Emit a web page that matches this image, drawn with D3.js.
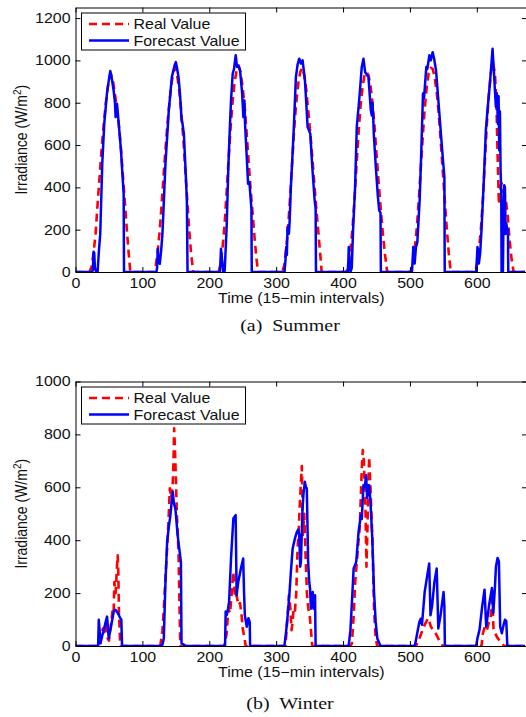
<!DOCTYPE html>
<html>
<head>
<meta charset="utf-8">
<script src="https://cdn.jsdelivr.net/npm/d3@7"></script>
<style>
  body { margin: 0; background: #fff; }
  svg { display: block; }
  text { font-family: "Liberation Sans", Arial, Helvetica, sans-serif; fill: #111; }
  .caption { font-family: "Liberation Serif", "Times New Roman", serif; white-space: pre; }
</style>
</head>
<body>
<svg id="fig" width="526" height="717"></svg>
<script>
// ---- data: [time index (15-min steps), irradiance W/m^2] ----
const xTicks = [0, 100, 200, 300, 400, 500, 600];
const summerYTicks = [0, 200, 400, 600, 800, 1000, 1200];
const winterYTicks = [0, 200, 400, 600, 800, 1000];
const seriesNames = ["Real Value", "Forecast Value"];
const captions = ["(a)  Summer", "(b)  Winter"];
const xLabel = "Time (15\u2212min intervals)";

const summerReal = [
  [0,0],[21,0],[24,25],[27,90],[30,180],[33,320],[36,450],[39,580],[42,690],[45,790],[48,870],[51,920],[53,935],[56,905],[59,840],[62,770],[65,690],[68,580],[71,450],[74,320],[77,190],[80,70],[82,0],
  [117,0],[120,30],[123,100],[126,200],[129,330],[132,470],[135,600],[138,720],[141,820],[144,900],[147,955],[149,965],[152,930],[155,860],[158,760],[161,640],[164,490],[167,340],[170,200],[173,80],[176,0],
  [214,0],[217,40],[220,120],[223,230],[226,380],[229,540],[232,690],[235,810],[238,900],[241,955],[244,975],[247,940],[250,870],[253,780],[256,650],[258,560],[260,470],[262,380],[265,270],[268,150],[271,50],[273,0],
  [309,0],[312,30],[315,110],[318,220],[321,360],[324,520],[327,680],[330,800],[333,890],[336,945],[339,965],[342,930],[345,860],[348,760],[351,660],[354,540],[357,420],[360,300],[363,190],[366,80],[368,0],
  [405,0],[408,30],[411,100],[414,200],[417,340],[420,500],[423,650],[426,780],[429,870],[432,930],[435,945],[438,930],[441,880],[444,800],[447,690],[450,560],[453,430],[456,310],[459,200],[462,100],[466,0],
  [501,0],[504,30],[507,100],[510,200],[513,330],[516,480],[519,630],[522,770],[525,870],[528,940],[531,965],[534,960],[537,920],[540,850],[543,750],[546,620],[549,480],[552,340],[555,210],[558,90],[561,0],
  [597,0],[600,30],[603,100],[606,200],[609,340],[612,520],[615,700],[618,840],[621,940],[624,990],[627,940],[629,830],[631,560],[633,320],[635,400],[637,420],[640,380],[643,350],[646,270],[649,150],[652,60],[655,0],[672,0]
];

const summerForecast = [
  [0,0],[25,0],[26,10],[27,96],[28,90],[29,20],[31,0],[33,0],[35,100],[37,181],[40,512],[43,701],[47,843],[50,910],[52,950],[54,920],[57,858],[59,800],[60,732],[62,795],[64,724],[66,650],[68,575],[70,470],[72,370],[72.5,0],
  [121,0],[122,20],[123,110],[124,60],[126,39],[128,100],[130,181],[134.5,512],[139.5,764],[144,921],[148,975],[150,992],[152,960],[154,921],[156,850],[157.5,780],[158.5,720],[160,700],[162,654],[164,520],[166.5,339],[167.5,0],
  [216,0],[217.5,110],[219,60],[221,0],[223,5],[226,213],[228.5,496],[231,700],[232.5,811],[235,937],[237,960],[239.5,1024],[241.5,969],[243.5,975],[246,953],[249,850],[251,732],[252.5,811],[253.5,700],[255.5,575],[258,417],[260,425],[262,339],[263,300],[263.5,0],
  [312.5,0],[314,60],[315,118],[316,80],[317,213],[319,181],[320,230],[322,402],[326,654],[329.5,921],[332,980],[334.5,1008],[337,985],[339.5,1000],[341,960],[343,906],[345,800],[347,685],[349,670],[351,654],[354,496],[357.5,339],[359,300],[359.5,0],
  [407,0],[408,60],[408.5,118],[410,40],[411,0],[413,20],[415,200],[418,402],[420.5,685],[424.5,827],[427,930],[428,969],[430.5,1008],[433,945],[436,930],[438,921],[441.5,764],[443,740],[444,800],[445,740],[446,650],[449,496],[452,360],[454,291],[456,280],[456.5,0],
  [503,0],[505,118],[506,60],[507,40],[509,118],[511,140],[512,197],[514.5,339],[517,575],[519.5,843],[521,820],[524.5,969],[526,960],[529,1024],[531,1000],[534,1039],[536,1010],[539,953],[544,748],[549,543],[551.5,449],[552,0],
  [599,0],[601,118],[603,40],[605,90],[607,200],[610,402],[613.5,669],[615.5,748],[619.5,890],[621.5,970],[623.5,1055],[625.5,950],[627,860],[628.5,780],[630,843],[631.5,700],[632.5,830],[633.5,575],[634.5,760],[635.5,480],[636.5,380],[637,0],[639,0],[640,300],[641,410],[642,400],[643,180],[644,230],[645,210],[646.5,200],[647,0],[672,0]
];

const winterReal = [
  [0,0],[36,0],[38,30],[40.9,66],[43,40],[45.8,91],[48,30],[50,20],[52,60],[55.7,141],[57,130],[58.1,242],[60,200],[62,300],[63,343],[64,280],[65,124],[67,0],
  [125,0],[127,5],[130,60],[132,141],[134.5,260],[137,368],[139.4,495],[141,596],[143,560],[145.3,608],[146.5,700],[147.5,823],[148.5,760],[150,640],[151.5,500],[153,420],[154.2,330],[155.5,150],[156.7,0],
  [222,0],[224,20],[226,48],[228.6,141],[231,124],[233.6,200],[236,280],[238.6,181],[241,192],[243.3,154],[246,162],[248.3,116],[250,66],[253.2,20],[254.5,0],
  [314,0],[316,80],[317.2,116],[319,192],[321,150],[323,60],[324.6,91],[326,140],[328,130],[330,200],[332,368],[334,450],[335,520],[337,621],[338.4,680],[340,420],[342,500],[344.3,318],[346,200],[348,141],[350,120],[352,60],[354,0],
  [411,0],[413.3,10],[416,120],[418.2,242],[420,300],[423,394],[425,450],[428,671],[429.5,741],[431,700],[433.5,520],[435,300],[436.5,450],[438,620],[439,715],[441,600],[443.9,400],[446.3,141],[448.8,30],[451,0],
  [509,0],[513,20],[517,48],[522,80],[527,105],[529,95],[531,75],[534,61],[537,55],[540,40],[544,20],[547,10],[549,0],
  [607,0],[609,48],[612,73],[615,60],[618,90],[620.5,103],[622.6,175],[623.4,167],[625,60],[627,50],[631,30],[634,20],[637,10],[641,0],[672,0]
];

const winterForecast = [
  [0,0],[33.8,0],[34.8,99],[36,60],[37.3,10],[40,40],[42.2,60],[45,90],[47.2,111],[49.7,29],[52.2,61],[55,100],[57.2,130],[59.6,137],[62,130],[64.6,118],[67,105],[68.5,100],[69.6,0],
  [128,0],[130,5],[132,28],[134.5,242],[137,394],[139.5,450],[141.9,495],[144.3,560],[145.5,583],[147,540],[149.3,520],[152.7,419],[155.7,356],[157.6,318],[158.5,10],[162,5],[165,0],
  [223.6,0],[224.5,130],[226,116],[228,140],[229.6,167],[232.5,331],[236,482],[239.4,495],[240.9,192],[243.3,242],[247.3,293],[250.7,331],[252,200],[253.2,116],[255.5,80],[256,73],[258.5,105],[260.5,90],[261,0],
  [312.3,0],[314.8,53],[317,110],[319.7,192],[322,280],[324.6,368],[328,406],[331,432],[333,440],[334.5,420],[336,300],[337,318],[339.4,520],[341,580],[342.9,621],[344.5,600],[345.8,596],[347.8,318],[349.5,240],[350.7,217],[352,141],[354.7,204],[356,141],[358.1,192],[359,0],
  [408.4,0],[411,60],[413.3,167],[415.8,293],[419.7,318],[421,360],[423.2,432],[426.6,495],[428,480],[430.5,608],[432.5,600],[434.5,646],[436,560],[437.9,608],[439,608],[441,545],[443.9,394],[446.3,204],[448.8,91],[451.2,28],[456,0],
  [507.3,0],[512.2,66],[514,90],[516.1,103],[518,80],[522,204],[525.9,267],[528.8,312],[530.7,116],[533,150],[536.6,242],[540,293],[542.4,66],[546,120],[550.2,204],[551.5,150],[552.2,0],
  [599,0],[601,30],[604,61],[608,150],[611.5,213],[614,73],[616,110],[618.8,162],[622.6,219],[624.6,124],[627,220],[628.6,301],[631,333],[633,320],[634.9,73],[637.4,48],[640,80],[642,99],[644,95],[645.6,0],[672,0]
];

// ---- layout ----
const SX = 1.14;            // horizontal glyph stretch used for all lettering
const FONT = 14;
const svg = d3.select("#fig");
const x = d3.scaleLinear().domain([0, 675]).range([75.5, 527]);
const fmt = d3.format("d");

const panels = [
  { top: 7.5,   bottom: 272, yMax: 1250, yTicks: summerYTicks, real: summerReal, forecast: summerForecast, caption: captions[0], capY: 331 },
  { top: 381.5, bottom: 646, yMax: 1000, yTicks: winterYTicks, real: winterReal, forecast: winterForecast, caption: captions[1], capY: 709 }
];

function stretchedText(parent, tx, ty, str, anchor, cls) {
  const g = parent.append("g").attr("transform", `translate(${tx},${ty}) scale(${SX},1)`);
  return g.append("text").attr("class", cls || null)
    .attr("text-anchor", anchor).style("font-size", FONT + "px").text(str);
}

panels.forEach((p, i) => {
  const y = d3.scaleLinear().domain([0, p.yMax]).range([p.bottom, p.top]);
  const g = svg.append("g");
  const clipId = "clip" + i;
  g.append("clipPath").attr("id", clipId).append("rect")
    .attr("x", x.range()[0]).attr("y", p.top)
    .attr("width", x.range()[1] - x.range()[0]).attr("height", p.bottom - p.top);

  const line = d3.line().x(d => x(d[0])).y(d => y(d[1]));
  const plot = g.append("g").attr("clip-path", `url(#${clipId})`);
  plot.append("path").datum(p.real).attr("d", line)
    .attr("fill", "none").attr("stroke", "#ff0000").attr("stroke-width", 2.6)
    .attr("stroke-dasharray", "8,5").attr("stroke-linejoin", "round");
  plot.append("path").datum(p.forecast).attr("d", line)
    .attr("fill", "none").attr("stroke", "#0000ff").attr("stroke-width", 2.5)
    .attr("stroke-linejoin", "round");

  // axes box with inward ticks
  const styleAxis = sel => {
    sel.selectAll(".domain, .tick line").attr("stroke", "#000").attr("stroke-width", 1);
  };
  const axB = g.append("g").attr("transform", `translate(0,${p.bottom})`)
    .call(d3.axisBottom(x).tickValues(xTicks).tickFormat(fmt).tickSizeInner(-5).tickSizeOuter(0).tickPadding(6));
  axB.selectAll("text").style("font-size", FONT + "px").attr("transform", `scale(${SX},1)`);
  const axL = g.append("g").attr("transform", `translate(${x.range()[0]},0)`)
    .call(d3.axisLeft(y).tickValues(p.yTicks).tickFormat(fmt).tickSizeInner(-5).tickSizeOuter(0).tickPadding(5));
  axL.selectAll("text").style("font-size", FONT + "px").attr("x", -5 / SX).attr("transform", `scale(${SX},1)`);
  g.append("g").attr("transform", `translate(0,${p.top})`)
    .call(d3.axisTop(x).tickValues(xTicks).tickSizeInner(-5).tickSizeOuter(0).tickFormat(""));
  g.append("g").attr("transform", `translate(${x.range()[1]},0)`)
    .call(d3.axisRight(y).tickValues(p.yTicks).tickSizeInner(-5).tickSizeOuter(0).tickFormat(""));
  g.selectAll("g").call(styleAxis);
  g.selectAll(".tick text").attr("fill", "#111").attr("font-family", null);

  // y label
  const mid = (p.top + p.bottom) / 2;
  const yl = g.append("g").attr("transform", `translate(27,${mid}) scale(${SX},1) rotate(-90)`)
    .append("text").attr("text-anchor", "middle").style("font-size", FONT + "px");
  yl.append("tspan").text("Irradiance (W/m");
  yl.append("tspan").attr("dy", -5).style("font-size", "10px").text("2");
  yl.append("tspan").attr("dy", 5).text(")");

  // x label
  stretchedText(g, (x.range()[0] + x.range()[1]) / 2, p.bottom + 31, xLabel, "middle");

  // legend
  const lx = 81.5, ly = p.top + 5.5;
  g.append("rect").attr("x", lx).attr("y", ly).attr("width", 164).attr("height", 37)
    .attr("fill", "#fff").attr("stroke", "#000").attr("stroke-width", 1);
  const rows = [
    { name: seriesNames[0], color: "#ff0000", dash: "8,5", dy: 11 },
    { name: seriesNames[1], color: "#0000ff", dash: null, dy: 27.5 }
  ];
  rows.forEach(r => {
    g.append("line").attr("x1", 89).attr("x2", 129).attr("y1", ly + r.dy).attr("y2", ly + r.dy)
      .attr("stroke", r.color).attr("stroke-width", 2.5).attr("stroke-dasharray", r.dash);
    stretchedText(g, 133.5, ly + r.dy + 5, r.name, "start");
  });

  // caption
  const cg = g.append("g").attr("transform", `translate(290,${p.capY}) scale(${SX},1)`);
  cg.append("text").attr("class", "caption").attr("text-anchor", "middle")
    .style("font-size", "17.5px").text(p.caption);
});
</script>
</body>
</html>
